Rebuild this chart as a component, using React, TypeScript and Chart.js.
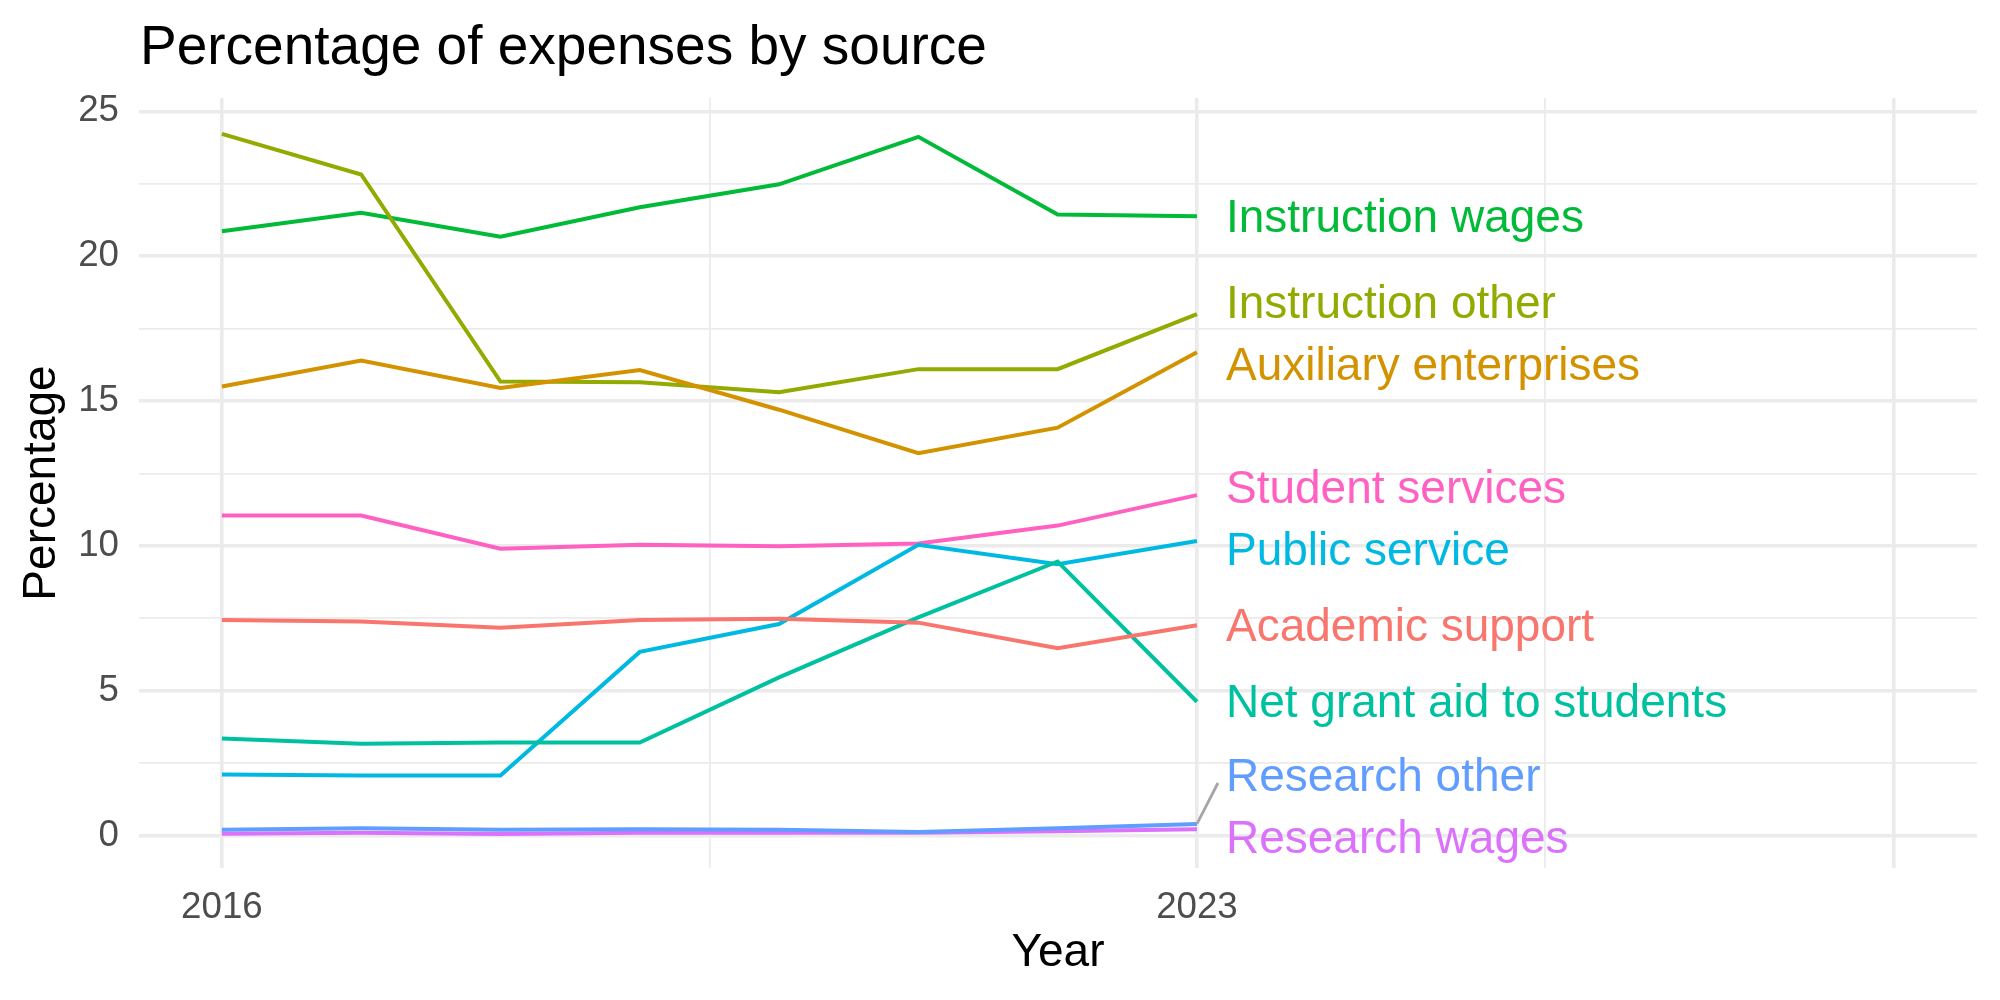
import { useEffect, useRef } from "react";
import { Chart, registerables } from "chart.js";

Chart.register(...registerables);

// Fiscal years on the x axis
const years = [2016, 2017, 2018, 2019, 2020, 2021, 2022, 2023];

// Share of total expenses (%) by category
const academicSupport = [7.44, 7.39, 7.17, 7.44, 7.48, 7.35, 6.47, 7.26];
const auxiliaryEnterprises = [15.5, 16.4, 15.45, 16.07, 14.7, 13.2, 14.08, 16.68];
const instructionOther = [24.22, 22.82, 15.67, 15.65, 15.3, 16.1, 16.1, 18.0];
const instructionWages = [20.86, 21.5, 20.67, 21.69, 22.48, 24.12, 21.44, 21.38];
const netGrantAid = [3.35, 3.17, 3.21, 3.21, 5.46, 7.53, 9.46, 4.62];
const publicService = [2.11, 2.07, 2.07, 6.34, 7.3, 10.04, 9.37, 10.17];
const researchOther = [0.2, 0.25, 0.2, 0.22, 0.2, 0.12, 0.25, 0.4];
const researchWages = [0.06, 0.1, 0.05, 0.1, 0.1, 0.1, 0.15, 0.22];
const studentServices = [11.05, 11.05, 9.9, 10.04, 9.99, 10.08, 10.7, 11.75];

const seriesNames = [
  "Academic support",
  "Auxiliary enterprises",
  "Instruction other",
  "Instruction wages",
  "Net grant aid to students",
  "Public service",
  "Research other",
  "Research wages",
  "Student services",
];
const seriesValues = [
  academicSupport,
  auxiliaryEnterprises,
  instructionOther,
  instructionWages,
  netGrantAid,
  publicService,
  researchOther,
  researchWages,
  studentServices,
];
const seriesColors = [
  "#F8766D",
  "#D39200",
  "#93AA00",
  "#00BA38",
  "#00C19F",
  "#00B9E3",
  "#619CFF",
  "#DB72FB",
  "#FF61C3",
];

// Axis breaks
const xMajorTicks = [2016, 2023, 2028];
const xTickLabels = ["2016", "2023", ""];
const xMinorTicks = [2019.5, 2025.5];
const yMajorTicks = [0, 5, 10, 15, 20, 25];
const yMinorTicks = [2.5, 7.5, 12.5, 17.5, 22.5];

const FONT = '"Liberation Sans", Arial, Helvetica, sans-serif';
const GRID = "#EBEBEB";

// Title at the top left, aligned with the panel
const titlePlugin = {
  id: "plotTitle",
  afterDraw(chart: any) {
    const { ctx } = chart;
    ctx.save();
    ctx.font = `55px ${FONT}`;
    ctx.fillStyle = "#000000";
    ctx.textAlign = "left";
    ctx.textBaseline = "alphabetic";
    ctx.fillText("Percentage of expenses by source", 140, 64);
    ctx.restore();
  },
};

// Direct labels at the end of every line, nudged apart so they don't overlap
const endLabelPlugin = {
  id: "endLabels",
  afterDatasetsDraw(chart: any) {
    const { ctx, chartArea } = chart;
    const xs = chart.scales.x;
    const ys = chart.scales.y;
    const lastYear = years[years.length - 1];
    const x0 = xs.getPixelForValue(lastYear);
    const gap = 62;
    const half = 31;

    const items = seriesNames.map((name, i) => {
      const v = seriesValues[i][seriesValues[i].length - 1];
      const py = ys.getPixelForValue(v);
      return { name, color: seriesColors[i], py, ly: py };
    });
    const sorted = [...items].sort((a, b) => a.py - b.py);
    for (let iter = 0; iter < 300; iter++) {
      for (let k = 0; k < sorted.length - 1; k++) {
        const a = sorted[k];
        const b = sorted[k + 1];
        const d = b.ly - a.ly;
        if (d < gap) {
          const push = (gap - d) / 2;
          a.ly -= push;
          b.ly += push;
        }
      }
      for (const it of sorted) {
        it.ly = Math.min(Math.max(it.ly, chartArea.top + half), chartArea.bottom - half);
      }
    }

    ctx.save();
    const textX = x0 + 29;
    for (const it of items) {
      if (Math.abs(it.ly - it.py) > 25) {
        const sign = it.py > it.ly ? 1 : -1;
        ctx.strokeStyle = "#A6A6A6";
        ctx.lineWidth = 2.8;
        ctx.beginPath();
        ctx.moveTo(x0, it.py);
        ctx.lineTo(textX - 8, it.ly + sign * 8);
        ctx.stroke();
      }
    }
    ctx.font = `46px ${FONT}`;
    ctx.textAlign = "left";
    ctx.textBaseline = "middle";
    for (const it of items) {
      ctx.fillStyle = it.color;
      ctx.fillText(it.name, textX, it.ly + 3);
    }
    ctx.restore();
  },
};

export default function App() {
  const canvasRef = useRef<HTMLCanvasElement | null>(null);

  useEffect(() => {
    const canvas = canvasRef.current;
    if (!canvas) return;

    const datasets = seriesNames.map((name, i) => ({
      label: name,
      data: years.map((yr, j) => ({ x: yr, y: seriesValues[i][j] })),
      borderColor: seriesColors[i],
      backgroundColor: seriesColors[i],
      borderWidth: 4,
      pointRadius: 0,
      tension: 0,
      fill: false,
    }));

    const chart = new Chart(canvas, {
      type: "line",
      data: { datasets },
      options: {
        responsive: false,
        animation: false,
        layout: { padding: { top: 98, right: 23, bottom: 0, left: 0 } },
        plugins: {
          legend: { display: false },
          tooltip: { enabled: false },
          title: { display: false },
        },
        scales: {
          x: {
            type: "linear",
            min: 2015.405,
            max: 2028.6,
            afterBuildTicks: (scale: any) => {
              scale.ticks = [...xMajorTicks, ...xMinorTicks]
                .sort((a, b) => a - b)
                .map((value) => ({ value }));
            },
            afterFit: (scale: any) => {
              scale.height = 132;
            },
            border: { display: false },
            grid: {
              color: GRID,
              drawTicks: false,
              lineWidth: (ctx: any) =>
                xMajorTicks.includes(ctx.tick?.value) ? 3.6 : 1.8,
            },
            ticks: {
              autoSkip: false,
              maxRotation: 0,
              padding: 18,
              color: "#4D4D4D",
              font: { family: FONT, size: 36.7 },
              callback: (value: any) => {
                const idx = xMajorTicks.indexOf(Number(value));
                return idx >= 0 ? xTickLabels[idx] : "";
              },
            },
            title: {
              display: true,
              text: "Year",
              color: "#000000",
              font: { family: FONT, size: 46 },
              padding: { top: 0, bottom: 19 },
            },
          },
          y: {
            type: "linear",
            min: -1.12,
            max: 25.46,
            afterBuildTicks: (scale: any) => {
              scale.ticks = [...yMajorTicks, ...yMinorTicks]
                .sort((a, b) => a - b)
                .map((value) => ({ value }));
            },
            afterFit: (scale: any) => {
              scale.width = 139;
            },
            border: { display: false },
            grid: {
              color: GRID,
              drawTicks: false,
              lineWidth: (ctx: any) =>
                yMajorTicks.includes(ctx.tick?.value) ? 3.6 : 1.8,
            },
            ticks: {
              autoSkip: false,
              padding: 20,
              color: "#4D4D4D",
              font: { family: FONT, size: 36.7 },
              callback: (value: any) =>
                yMajorTicks.includes(Number(value)) ? String(value) : "",
            },
            title: {
              display: true,
              text: "Percentage",
              color: "#000000",
              font: { family: FONT, size: 46 },
              padding: { top: 15, bottom: 0 },
            },
          },
        },
      },
      plugins: [titlePlugin, endLabelPlugin],
    });

    return () => {
      chart.destroy();
    };
  }, []);

  return (
    <div style={{ position: "absolute", left: 0, top: 0, width: 2000, height: 1000, background: "#FFFFFF" }}>
      <canvas ref={canvasRef} width={2000} height={1000} style={{ width: 2000, height: 1000, display: "block" }} />
    </div>
  );
}
